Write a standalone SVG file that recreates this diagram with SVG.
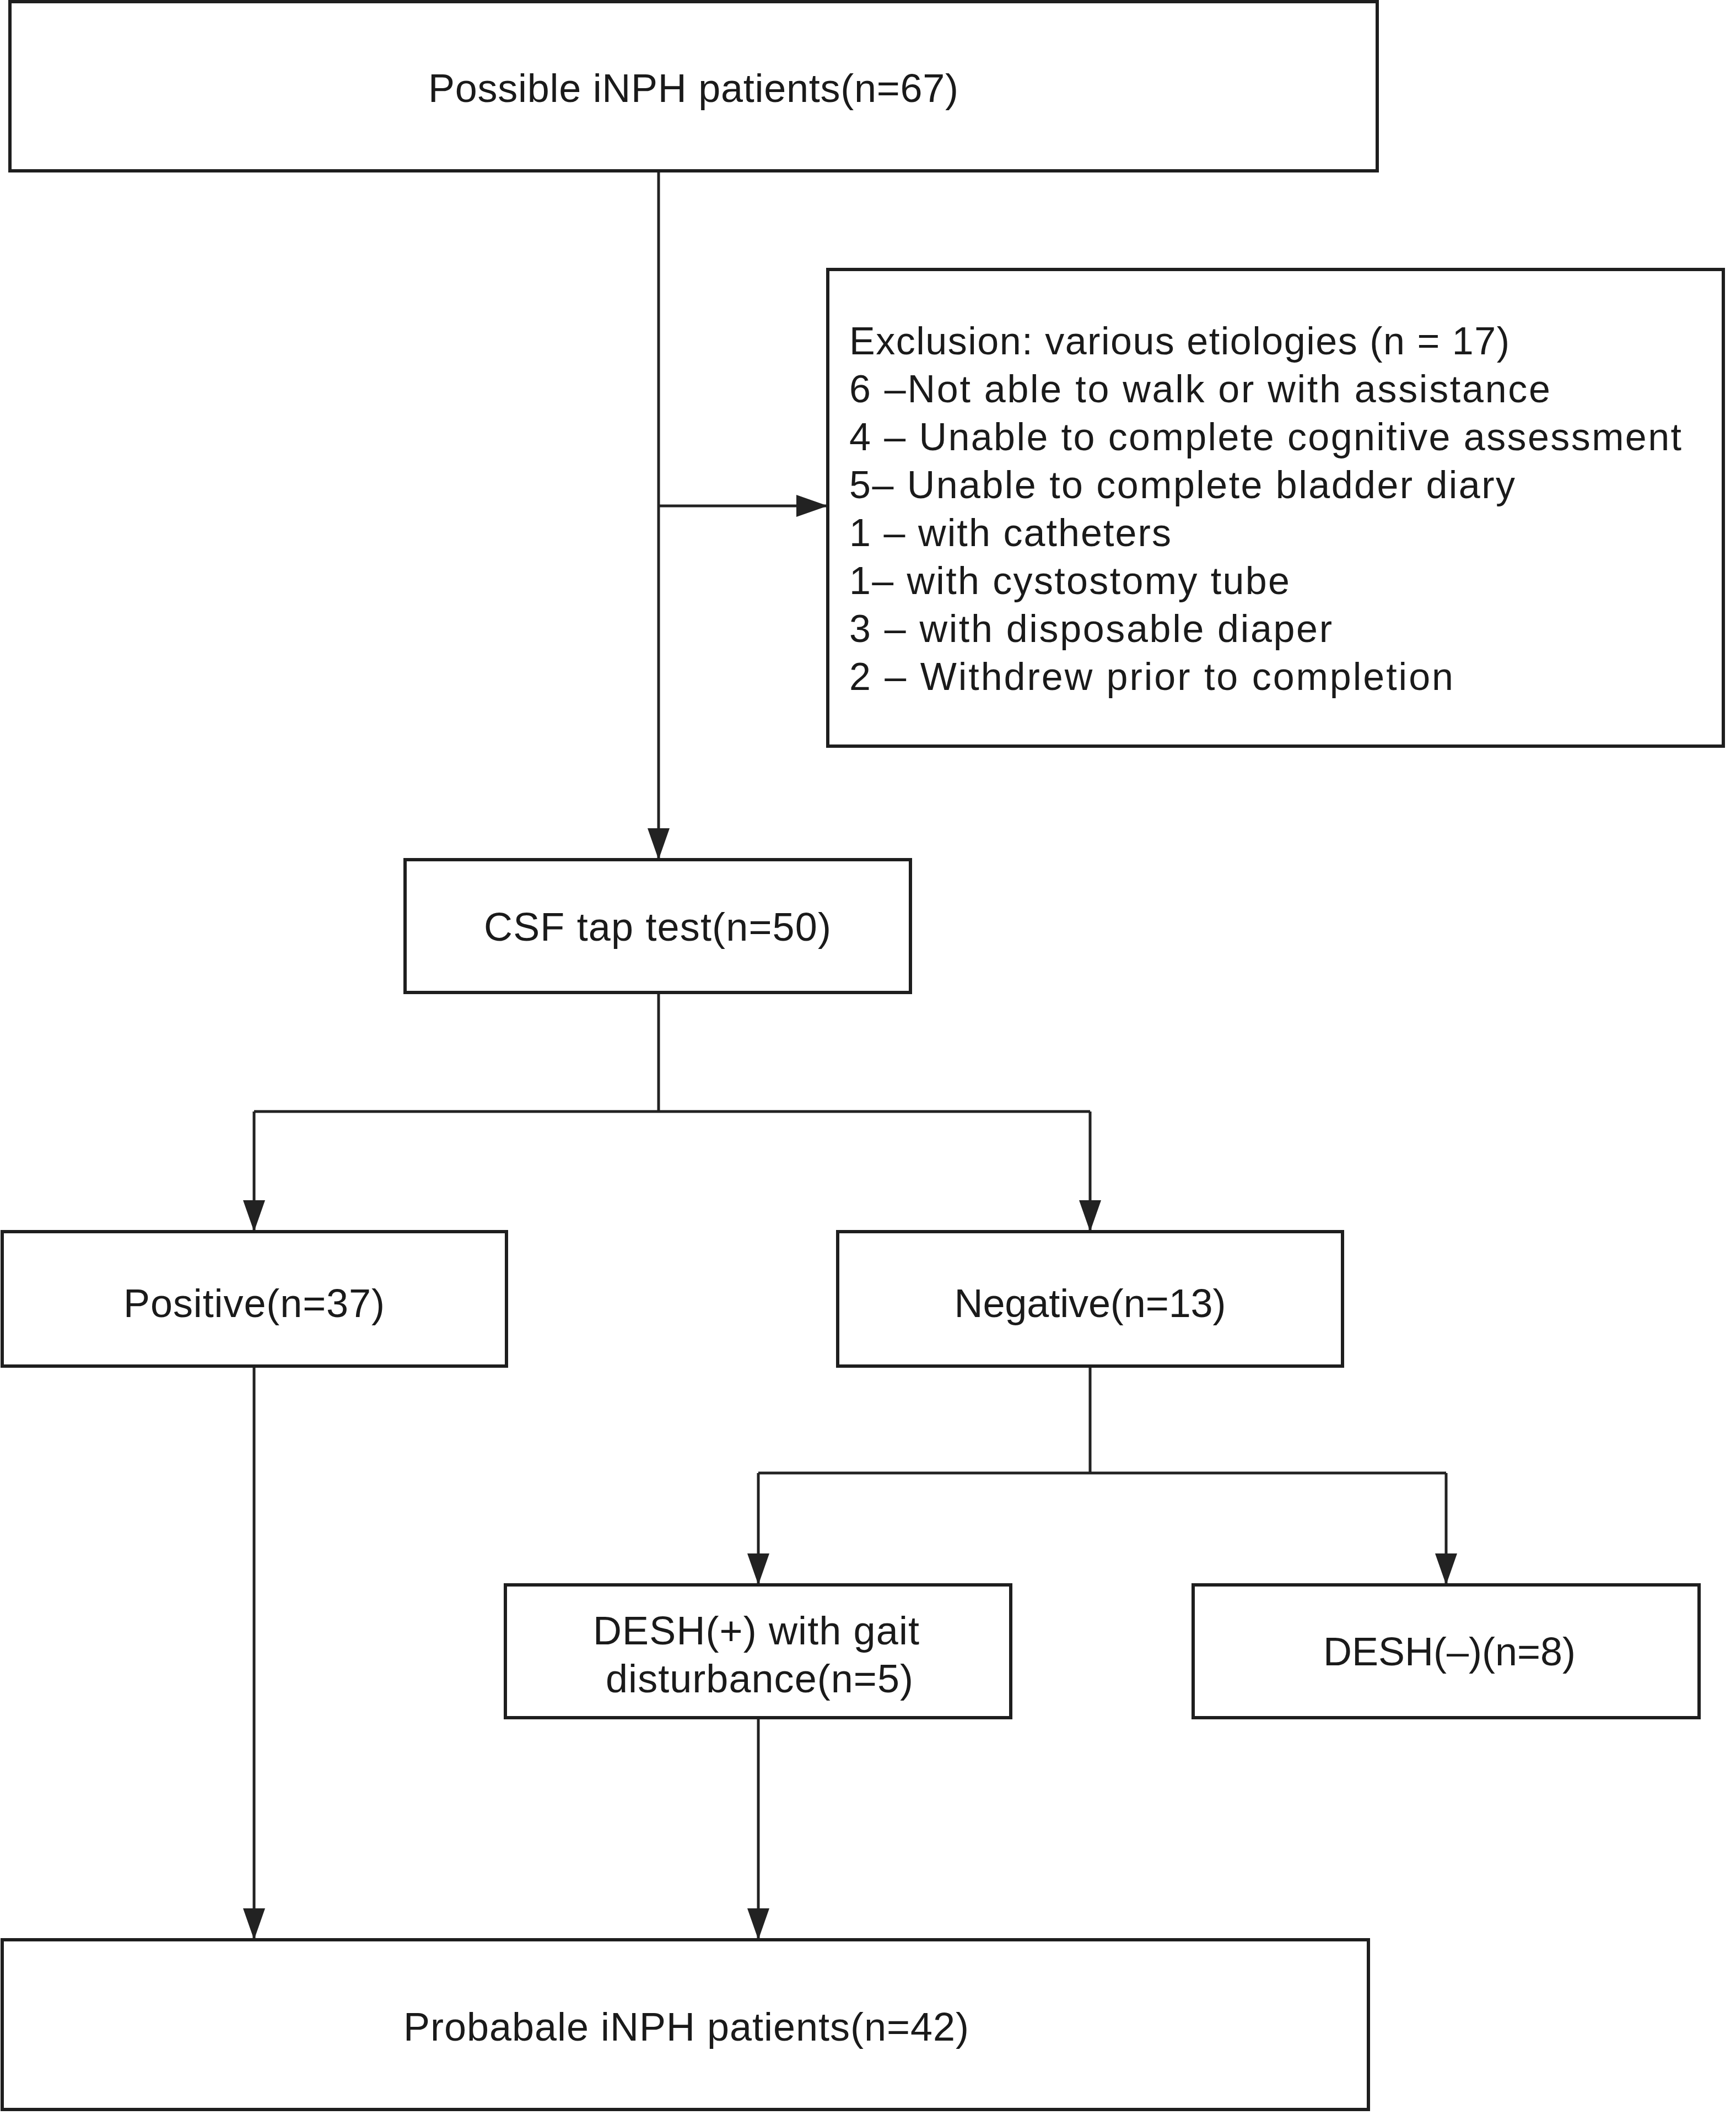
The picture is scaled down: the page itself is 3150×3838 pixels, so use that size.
<svg xmlns="http://www.w3.org/2000/svg" width="3150" height="3838" viewBox="0 0 3150 3838">
  <style>
    .box { fill: #ffffff; stroke: #1e1e1e; stroke-width: 6; }
    .conn { fill: none; stroke: #222222; stroke-width: 5; }
    .t { font-family: "Liberation Sans", Arial, Helvetica, sans-serif; font-size: 72px; fill: #1a1a1a; text-anchor: middle; }
    .ex { font-family: "Liberation Sans", Arial, Helvetica, sans-serif; font-size: 70px; fill: #1a1a1a; text-anchor: start; }
  </style>
  <defs>
    <marker id="arrow" markerUnits="userSpaceOnUse" markerWidth="57" markerHeight="40" refX="57" refY="20" orient="auto">
      <path d="M0,0 L57,20 L0,40 Z" fill="#222222"/>
    </marker>
  </defs>
  <rect width="3150" height="3838" fill="#ffffff"/>

  <g id="connectors">
    <line class="conn" x1="1195" y1="310" x2="1195" y2="1560" marker-end="url(#arrow)"/>
    <line class="conn" x1="1195" y1="918" x2="1502" y2="918" marker-end="url(#arrow)"/>
    <polyline class="conn" points="1195,1801 1195,2017"/>
    <polyline class="conn" points="461,2017 1978,2017"/>
    <line class="conn" x1="461" y1="2017" x2="461" y2="2235" marker-end="url(#arrow)"/>
    <line class="conn" x1="1978" y1="2017" x2="1978" y2="2235" marker-end="url(#arrow)"/>
    <polyline class="conn" points="1978,2479 1978,2673"/>
    <polyline class="conn" points="1376,2673 2624,2673"/>
    <line class="conn" x1="1376" y1="2673" x2="1376" y2="2876" marker-end="url(#arrow)"/>
    <line class="conn" x1="2624" y1="2673" x2="2624" y2="2876" marker-end="url(#arrow)"/>
    <line class="conn" x1="461" y1="2479" x2="461" y2="3520" marker-end="url(#arrow)"/>
    <line class="conn" x1="1376" y1="3117" x2="1376" y2="3520" marker-end="url(#arrow)"/>
  </g>

  <g id="node-possible">
    <rect class="box" x="18" y="3" width="2481" height="307"/>
    <text class="t" x="1258" y="185" textLength="962">Possible iNPH patients(n=67)</text>
  </g>

  <g id="node-exclusion">
    <rect class="box" x="1502" y="489" width="1625" height="865"/>
    <text class="ex" x="1541" y="643" textLength="1198">Exclusion: various etiologies (n = 17)</text>
    <text class="ex" x="1541" y="730" textLength="1272">6 –Not able to walk or with assistance</text>
    <text class="ex" x="1541" y="817" textLength="1510">4 – Unable to complete cognitive assessment</text>
    <text class="ex" x="1541" y="904" textLength="1208">5– Unable to complete bladder diary</text>
    <text class="ex" x="1541" y="991" textLength="584">1 – with catheters</text>
    <text class="ex" x="1541" y="1078" textLength="799">1– with cystostomy tube</text>
    <text class="ex" x="1541" y="1165" textLength="876">3 – with disposable diaper</text>
    <text class="ex" x="1541" y="1252" textLength="1096">2 – Withdrew prior to completion</text>
  </g>

  <g id="node-csf">
    <rect class="box" x="735" y="1560" width="917" height="241"/>
    <text class="t" x="1193" y="1707" textLength="630">CSF tap test(n=50)</text>
  </g>

  <g id="node-positive">
    <rect class="box" x="4" y="2235" width="915" height="244"/>
    <text class="t" x="461" y="2390" textLength="474">Positive(n=37)</text>
  </g>

  <g id="node-negative">
    <rect class="box" x="1520" y="2235" width="916" height="244"/>
    <text class="t" x="1978" y="2390" textLength="493">Negative(n=13)</text>
  </g>

  <g id="node-desh-pos">
    <rect class="box" x="917" y="2876" width="917" height="241"/>
    <text class="t" x="1372" y="2984" textLength="592">DESH(+) with gait</text>
    <text class="t" x="1378" y="3071" textLength="558">disturbance(n=5)</text>
  </g>

  <g id="node-desh-neg">
    <rect class="box" x="2165" y="2876" width="918" height="241"/>
    <text class="t" x="2630" y="3022" textLength="458">DESH(–)(n=8)</text>
  </g>

  <g id="node-probable">
    <rect class="box" x="4" y="3520" width="2479" height="308"/>
    <text class="t" x="1245" y="3703" textLength="1026">Probabale iNPH patients(n=42)</text>
  </g>
</svg>
